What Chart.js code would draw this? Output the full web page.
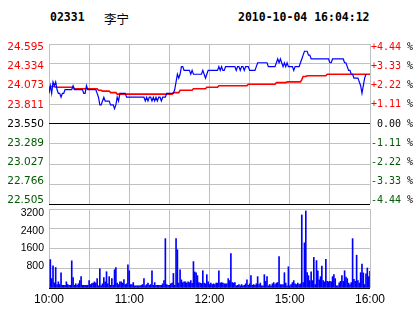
<!DOCTYPE html>
<html>
<head>
<meta charset="utf-8">
<script src="https://cdn.jsdelivr.net/npm/chart.js@4.4.0/dist/chart.umd.min.js"></script>
<style>
  body { margin: 0; background: #fff; width: 414px; height: 314px; overflow: hidden; position: relative; }
  .hd { position: absolute; top: 10px; line-height: 14px; font: bold 11.5px "DejaVu Sans Mono", monospace; color: #000; white-space: pre; }
  .hd.cn { font: 12.5px "Noto Sans CJK SC", sans-serif; top: 9px; }
  canvas { position: absolute; left: 0; }
  #price { top: 0; }
  #vol { top: 205px; }
</style>
</head>
<body>
<div class="hd" style="left:50px">02331</div>
<div class="hd cn" style="left:104px">李宁</div>
<div class="hd" style="left:238px">2010-10-04 16:04:12</div>
<canvas id="price" width="414" height="206"></canvas>
<canvas id="vol" width="414" height="109"></canvas>
<script>
/* ==========================
   DATA
   ========================== */

// Prev close (middle line)
const basePrice = 23.55;

// Left axis ticks + right axis percent labels
const priceTicks = [24.595, 24.334, 24.073, 23.811, 23.550, 23.289, 23.027, 22.766, 22.505];
const pctLabels = ['+4.44', '+3.33', '+2.22', '+1.11', '0.00', '-1.11', '-2.22', '-3.33', '-4.44'];

// Volume axis
const volTicks = [3200, 2400, 1600, 800];

// Minutes since 10:00 (trading minutes, lunch removed)
const gridMinutes = [0, 30, 60, 90, 120, 150, 180, 210, 240];
const labelMinutes = [0, 60, 120, 180, 240];
const timeLabels = ['10:00', '11:00', '12:00', '15:00', '16:00'];

// Price, one per minute
const prices = [
  23.95, 24.05, 23.95, 24.10, 24.05, 24.10, 24.00, 23.95, 23.95, 23.90,
  23.95, 23.95, 24.00, 24.00, 24.00, 24.00, 24.00, 24.00, 24.05, 24.00,
  24.00, 24.00, 24.00, 24.00, 24.00, 24.00, 23.95, 23.95, 24.05, 24.00,
  24.00, 24.00, 24.00, 24.00, 24.00, 24.00, 23.95, 23.90, 23.80, 23.80,
  23.85, 23.90, 23.85, 23.85, 23.85, 23.85, 23.80, 23.80, 23.80, 23.75,
  23.80, 23.90, 23.85, 23.95, 23.95, 23.95, 23.95, 23.95, 23.90, 23.90,
  23.90, 23.90, 23.90, 23.90, 23.90, 23.90, 23.90, 23.90, 23.90, 23.90,
  23.90, 23.90, 23.85, 23.90, 23.85, 23.90, 23.90, 23.85, 23.90, 23.85,
  23.90, 23.85, 23.90, 23.90, 23.85, 23.90, 23.90, 23.90, 23.95, 23.95,
  23.95, 23.95, 23.95, 23.95, 24.00, 24.10, 24.20, 24.15, 24.20, 24.30,
  24.30, 24.25, 24.25, 24.25, 24.25, 24.25, 24.20, 24.25, 24.20, 24.20,
  24.20, 24.20, 24.20, 24.20, 24.20, 24.25, 24.20, 24.15, 24.20, 24.25,
  24.25, 24.25, 24.25, 24.25, 24.25, 24.25, 24.25, 24.30, 24.25, 24.30,
  24.25, 24.25, 24.30, 24.30, 24.30, 24.30, 24.30, 24.30, 24.30, 24.30,
  24.25, 24.30, 24.30, 24.25, 24.30, 24.30, 24.25, 24.30, 24.30, 24.30,
  24.25, 24.25, 24.25, 24.25, 24.25, 24.30, 24.35, 24.35, 24.35, 24.35,
  24.35, 24.35, 24.35, 24.35, 24.30, 24.30, 24.30, 24.30, 24.30, 24.30,
  24.35, 24.40, 24.35, 24.40, 24.35, 24.30, 24.35, 24.30, 24.35, 24.30,
  24.30, 24.30, 24.30, 24.25, 24.30, 24.30, 24.30, 24.30, 24.35, 24.40,
  24.45, 24.50, 24.50, 24.50, 24.45, 24.45, 24.40, 24.40, 24.40, 24.40,
  24.40, 24.40, 24.40, 24.40, 24.40, 24.40, 24.40, 24.40, 24.40, 24.40,
  24.35, 24.35, 24.40, 24.40, 24.40, 24.40, 24.40, 24.40, 24.40, 24.40,
  24.40, 24.35, 24.35, 24.30, 24.25, 24.25, 24.20, 24.20, 24.15, 24.15,
  24.15, 24.15, 24.10, 24.05, 23.95, 24.05, 24.15, 24.20
];

// Average price, one per minute
const avgPrices = [
  24.00, 24.04, 24.04, 24.04, 24.04, 24.03, 24.03, 24.03, 24.03, 24.03,
  24.03, 24.03, 24.03, 24.03, 24.03, 24.03, 24.03, 24.03, 24.03, 24.01,
  24.01, 24.01, 24.01, 24.01, 24.01, 24.01, 24.01, 24.01, 24.01, 24.01,
  24.01, 24.01, 24.01, 24.01, 24.01, 24.01, 24.01, 23.99, 23.99, 23.99,
  23.98, 23.98, 23.98, 23.98, 23.98, 23.98, 23.96, 23.96, 23.96, 23.96,
  23.96, 23.94, 23.94, 23.94, 23.94, 23.94, 23.94, 23.94, 23.94, 23.94,
  23.94, 23.94, 23.94, 23.94, 23.94, 23.94, 23.94, 23.94, 23.94, 23.94,
  23.94, 23.94, 23.94, 23.94, 23.94, 23.94, 23.94, 23.94, 23.94, 23.94,
  23.94, 23.94, 23.94, 23.94, 23.94, 23.94, 23.94, 23.94, 23.94, 23.94,
  23.94, 23.94, 23.94, 23.96, 23.96, 23.96, 23.96, 23.96, 23.99, 23.99,
  23.99, 23.99, 23.99, 23.99, 23.99, 23.99, 23.99, 23.99, 24.01, 24.01,
  24.01, 24.01, 24.01, 24.01, 24.01, 24.01, 24.01, 24.01, 24.03, 24.03,
  24.03, 24.03, 24.03, 24.03, 24.03, 24.03, 24.03, 24.05, 24.05, 24.05,
  24.05, 24.05, 24.05, 24.05, 24.05, 24.05, 24.05, 24.05, 24.05, 24.05,
  24.05, 24.05, 24.05, 24.05, 24.05, 24.05, 24.05, 24.05, 24.05, 24.07,
  24.07, 24.07, 24.07, 24.07, 24.07, 24.07, 24.07, 24.07, 24.07, 24.07,
  24.07, 24.07, 24.07, 24.07, 24.07, 24.07, 24.07, 24.07, 24.07, 24.07,
  24.09, 24.09, 24.09, 24.09, 24.09, 24.09, 24.09, 24.09, 24.10, 24.10,
  24.10, 24.10, 24.10, 24.10, 24.10, 24.10, 24.10, 24.10, 24.10, 24.13,
  24.17, 24.17, 24.17, 24.18, 24.18, 24.18, 24.18, 24.18, 24.18, 24.18,
  24.18, 24.18, 24.18, 24.18, 24.18, 24.18, 24.18, 24.18, 24.20, 24.20,
  24.20, 24.20, 24.20, 24.20, 24.20, 24.20, 24.20, 24.20, 24.20, 24.20,
  24.20, 24.20, 24.20, 24.20, 24.20, 24.20, 24.20, 24.20, 24.20, 24.20,
  24.20, 24.20, 24.20, 24.20, 24.20, 24.20, 24.20, 24.20, 24.20, 24.20,
  24.20
];

// Volume per minute (index 0 = 10:00, no bar)
const volumes = [
  0,
  1150, 380, 900, 210, 830, 140, 250, 140, 610, 110,
  110, 110, 250, 140, 110, 110, 1100, 420, 110, 170,
  110, 170, 300, 460, 110, 110, 110, 110, 110, 300,
  140, 180, 200, 250, 200, 380, 90, 780, 100, 170,
  420, 250, 660, 170, 460, 110, 380, 110, 740, 830,
  200, 140, 250, 250, 200, 340, 140, 170, 940, 700,
  140, 140, 220, 90, 90, 90, 90, 90, 110, 140,
  380, 90, 140, 200, 110, 140, 700, 110, 220, 110,
  110, 110, 110, 110, 170, 300, 2000, 140, 110, 110,
  170, 200, 590, 110, 2000, 1550, 200, 740, 330, 220,
  250, 250, 200, 250, 220, 300, 190, 1070, 650, 610,
  500, 220, 200, 180, 700, 200, 170, 540, 250, 140,
  200, 140, 170, 140, 200, 200, 700, 200, 220, 200,
  170, 170, 170, 380, 300, 1390, 220, 200, 220, 90,
  110, 140, 90, 140, 90, 110, 170, 330, 110, 170,
  500, 110, 140, 110, 170, 460, 140, 200, 90, 90,
  540, 270, 460, 90, 140, 90, 170, 220, 140, 200,
  220, 1270, 140, 130, 140, 620, 200, 90, 860, 90,
  140, 220, 300, 170, 140, 200, 140, 170, 2960, 220,
  1830, 3120, 620, 500, 300, 660, 300, 1240, 140, 1110,
  700, 330, 460, 890, 300, 250, 1160, 270, 250, 270,
  250, 460, 540, 380, 90, 90, 210, 270, 500, 270,
  700, 440, 380, 200, 140, 220, 2000, 350, 270, 1330,
  300, 200, 620, 970, 610, 140, 570, 810, 460, 680
];

/* ==========================
   SCRIPT
   ========================== */

const $ = sel => document.querySelector(sel);
const RED = '#ff0000', GREEN = '#005a00', BLACK = '#000000', GRID = '#c0c0c0';

const toPoints = arr => arr.map((v, i) => ({ x: i, y: v }));

// labels sit a bit inside the plot at top/bottom
function insetY(area, pix, inset) {
  const h = area.bottom - area.top;
  return area.top + inset + (pix - area.top) * (h - 2 * inset) / h;
}

const priceLabels = {
  id: 'priceLabels',
  afterDraw(chart) {
    const ctx = chart.ctx, ys = chart.scales.y, area = chart.chartArea;
    ctx.save();
    ctx.textBaseline = 'middle';
    ctx.textAlign = 'right';
    priceTicks.forEach((v, k) => {
      const y = insetY(area, ys.getPixelForValue(v), 3.5);
      const col = v > basePrice + 0.0001 ? RED : (v < basePrice - 0.0001 ? GREEN : BLACK);
      ctx.fillStyle = col;
      ctx.font = '10.5px "DejaVu Sans"';
      ctx.fillText(v.toFixed(3), 44, y);
      ctx.font = '10px "DejaVu Sans Mono"';
      ctx.fillText(pctLabels[k], 401, y);
      ctx.fillStyle = BLACK;
      ctx.fillText('%', 413, y);
    });
    ctx.restore();
  }
};

const volLabels = {
  id: 'volLabels',
  afterDraw(chart) {
    const ctx = chart.ctx, ys = chart.scales.y, area = chart.chartArea;
    ctx.save();
    ctx.textBaseline = 'middle';
    ctx.textAlign = 'right';
    ctx.fillStyle = BLACK;
    ctx.font = '10.5px "Liberation Sans"';
    volTicks.forEach(v => {
      ctx.fillText(String(v), 44, insetY(area, ys.getPixelForValue(v), 4.5));
    });
    ctx.restore();
  }
};

const xScale = extra => Object.assign({
  type: 'linear',
  min: 0,
  max: 240,
  offset: false,
  afterBuildTicks: s => { s.ticks = gridMinutes.map(v => ({ value: v })); },
  grid: { color: GRID, drawTicks: false, offset: false },
  border: { display: false }
}, extra);

// Price chart
new Chart($('#price'), {
  type: 'line',
  data: {
    datasets: [
      { data: toPoints(prices), borderColor: '#0000ff', borderWidth: 1.2, pointRadius: 0, tension: 0, order: 0 },
      { data: toPoints(avgPrices), borderColor: RED, borderWidth: 1.6, pointRadius: 0, tension: 0, order: 1 }
    ]
  },
  options: {
    responsive: false,
    animation: false,
    events: [],
    layout: { padding: { top: 44, bottom: 2, left: 0, right: 44 } },
    plugins: { legend: { display: false }, tooltip: { enabled: false } },
    scales: {
      x: xScale({ ticks: { display: false }, afterFit: s => { s.height = 0; } }),
      y: {
        min: 22.505,
        max: 24.595,
        afterBuildTicks: s => { s.ticks = priceTicks.slice().reverse().map(v => ({ value: v })); },
        ticks: { display: false },
        grid: {
          drawTicks: false,
          color: c => (c.tick && (Math.abs(c.tick.value - basePrice) < 0.0001 || c.tick.value === 22.505)) ? BLACK : GRID
        },
        border: { display: false },
        afterFit: s => { s.width = 49; }
      }
    }
  },
  plugins: [priceLabels]
});

// Volume chart
new Chart($('#vol'), {
  type: 'bar',
  data: {
    datasets: [{ data: toPoints(volumes), backgroundColor: '#0000ff', borderWidth: 0, barThickness: 1 }]
  },
  options: {
    responsive: false,
    animation: false,
    events: [],
    layout: { padding: { top: 4, bottom: 0, left: 0, right: 44 } },
    plugins: { legend: { display: false }, tooltip: { enabled: false } },
    scales: {
      x: xScale({
        ticks: {
          autoSkip: false,
          maxRotation: 0,
          padding: 4,
          color: BLACK,
          font: { family: 'Liberation Sans', size: 12 },
          callback: v => {
            const k = labelMinutes.indexOf(v);
            return k >= 0 ? timeLabels[k] : '';
          }
        },
        afterFit: s => { s.height = 26; }
      }),
      y: {
        min: 0,
        max: 3200,
        afterBuildTicks: s => { s.ticks = [0].concat(volTicks.slice().reverse()).map(v => ({ value: v })); },
        ticks: { display: false },
        grid: { drawTicks: false, color: c => (c.tick && c.tick.value === 0) ? BLACK : GRID },
        border: { display: false },
        afterFit: s => { s.width = 49; }
      }
    }
  },
  plugins: [volLabels]
});
</script>
</body>
</html>
